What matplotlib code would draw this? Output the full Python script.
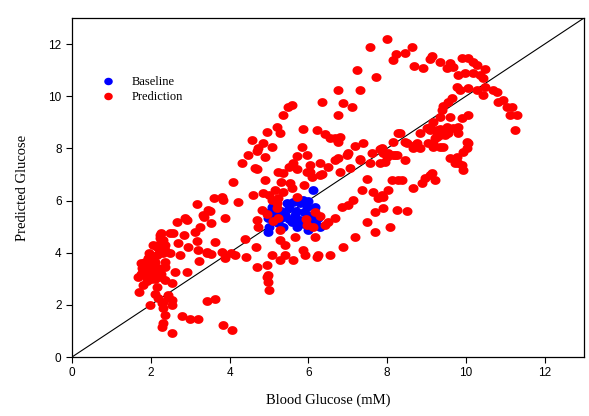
import numpy as np
import matplotlib
matplotlib.use("Agg")
import matplotlib.pyplot as plt
from matplotlib.path import Path

# baseline measurements (blue)
base_x = [5.08, 5.61, 5.86, 5.96, 6.17, 4.97, 5.41, 5.58, 5.79, 5.99, 6.24, 4.97,
          5.71, 5.99, 6.29, 5.36, 5.23, 6.12, 5.10, 5.15, 5.30, 5.50, 5.70, 5.80,
          6.00, 5.50, 5.65, 5.90, 6.05, 6.20, 5.45, 5.00, 5.05, 5.30, 6.15, 5.90]
base_y = [5.75, 5.94, 6.02, 5.75, 5.75, 5.33, 5.44, 5.17, 5.25, 5.44, 5.33, 4.79,
          4.98, 4.87, 4.98, 4.98, 5.13, 6.40, 5.20, 5.50, 5.60, 5.70, 5.60, 5.90,
          6.00, 5.30, 5.45, 5.10, 5.25, 5.10, 5.90, 5.00, 5.60, 5.35, 5.35, 5.55]

# model predictions (red)
pred_x = [
    # low range
    2.66, 2.92, 3.53, 2.23, 2.49, 2.56, 2.84, 3.12, 2.18, 2.36, 2.69, 2.94, 3.17,
    3.63, 2.16, 2.31, 2.49, 2.74, 3.20, 3.43, 3.53, 3.81, 4.04, 1.85, 2.11, 2.36,
    3.22, 3.88, 1.78, 1.98, 2.18, 2.36, 2.61, 2.92, 1.68, 1.90, 2.06, 2.36, 2.54,
    1.80, 2.16, 1.70, 2.44, 2.18, 2.54, 1.98, 2.28, 2.54, 2.31, 3.43, 3.63, 2.36,
    2.79, 2.99, 3.20, 2.31, 3.83, 4.06, 2.28, 2.54,
    1.85, 1.95, 2.00, 2.10, 1.75, 2.25, 2.20, 2.30, 1.90, 2.10, 2.30, 2.45, 1.92,
    2.23, 2.16, 1.75, 1.80, 2.00, 2.05, 2.15, 2.25, 1.95, 2.05, 2.25, 2.35,
    # lower middle
    4.47, 4.31, 4.64, 4.09, 4.90, 4.59, 4.21, 3.83, 3.60, 3.17, 3.50, 3.35, 3.88,
    2.87, 4.14, 4.42, 4.39, 4.67, 4.70, 4.95, 4.95, 4.97, 5.00, 4.90, 5.23, 3.81,
    3.45, 3.32, 3.25, 3.43, 4.97, 5.28, 5.61, 5.91, 6.22, 6.55, 6.88, 7.18, 7.69,
    8.07, 7.49, 7.69, 7.89, 8.25, 6.68, 6.85, 7.01, 7.13, 7.36, 7.64, 7.87, 8.02,
    8.12, 8.27, 7.31, 7.56, 7.82, 7.99, 8.15, 7.87, 6.98, 6.68, 6.50, 7.06, 6.80,
    6.29, 6.04,
    # upper band
    6.75, 7.31, 7.72, 6.35, 6.88, 7.11, 5.58, 5.48, 5.36, 6.75, 5.20, 5.86, 6.22,
    4.95, 5.28, 6.42, 6.68, 6.75, 4.57, 4.85, 5.08, 4.72, 7.18, 7.39, 8.15, 8.27,
    5.84,
    # central cluster
    4.70, 6.55, 5.71, 5.96, 5.61, 6.04, 6.29, 4.70, 5.36, 5.71, 5.96, 6.35, 5.53,
    4.85, 5.15, 5.36, 5.58, 5.08, 5.23, 5.71, 5.20, 5.23, 5.28, 5.28, 6.17, 5.96,
    6.12, 4.82, 4.70, 4.72, 6.17, 5.66, 6.42, 6.50, 5.41, 5.86, 5.08, 5.41, 6.24,
    5.00, 5.30, 5.50, 6.10, 5.90, 5.20, 4.95, 5.10, 6.30, 5.95,
    # middle right
    6.80, 7.82, 7.61, 8.32, 8.50, 8.71, 8.83, 9.09, 9.26, 9.16, 8.02, 8.25, 8.45,
    7.01, 6.75, 7.31, 7.49, 7.77, 8.65, 8.88, 9.09, 9.21, 8.50,
    # top
    7.99, 7.56, 8.63, 8.45, 8.22, 8.15, 9.14, 9.09, 9.34, 8.68, 8.91, 7.23,
    # upper right arc
    9.59, 9.67, 9.90, 10.05, 10.18, 10.28, 10.48, 9.80, 9.97, 10.18, 10.36, 10.43,
    9.52, 9.77, 9.85, 10.05, 10.28, 10.48, 10.69, 10.79, 10.43, 10.81, 10.94,
    11.04, 11.17, 11.12, 11.29, 11.24, 9.64, 9.54, 9.42, 9.39, 9.59, 9.90, 10.05,
    9.34, 9.16, 9.09, 9.26, 9.52, 9.67, 9.80, 8.83, 9.54, 9.21, 10.03,
    9.26, 9.34, 9.80, 9.16, 9.34, 10.05, 10.03, 9.92, 9.59, 9.77, 9.80, 9.92, 9.14,
    9.01, 9.34, 9.47, 8.45, 8.76, 8.65, 9.04, 9.42, 7.89, 8.20, 7.94, 9.72, 9.90,
    8.96, 8.38, 7.89,
]
pred_y = [
    # low range
    5.17, 5.25, 5.13, 4.67, 4.75, 4.75, 4.67, 4.79, 4.29, 4.29, 4.37, 4.21, 4.44,
    4.41, 3.91, 3.98, 3.98, 3.91, 4.10, 3.98, 3.95, 4.02, 3.98, 3.64, 3.64, 3.64,
    3.68, 3.79, 3.41, 3.33, 3.41, 3.45, 3.26, 3.26, 3.07, 3.03, 3.14, 2.95, 2.84,
    2.76, 2.68, 2.49, 2.38, 2.26, 2.18, 1.99, 2.07, 1.99, 1.88, 2.15, 2.22, 1.61,
    1.57, 1.46, 1.46, 1.30, 1.23, 1.03, 1.15, 0.92,
    3.50, 3.20, 3.50, 3.00, 3.20, 3.20, 4.00, 4.50, 2.90, 2.40, 2.10, 2.30, 3.79,
    4.56, 4.21, 3.60, 3.30, 3.00, 3.70, 3.35, 3.05, 4.00, 4.30, 4.75, 4.10,
    # lower middle
    7.74, 7.43, 7.24, 6.70, 6.78, 6.21, 5.94, 6.02, 6.09, 5.86, 5.59, 5.36, 5.33,
    5.33, 3.91, 3.83, 4.52, 4.21, 3.45, 3.52, 3.07, 2.87, 2.57, 7.66, 7.09, 6.13,
    5.63, 5.44, 4.98, 4.02, 3.14, 3.72, 3.72, 3.91, 3.83, 3.91, 4.21, 4.60, 4.79,
    4.98, 5.17, 5.56, 5.71, 5.63, 5.33, 5.75, 5.82, 6.02, 6.40, 6.32, 6.21, 6.40,
    6.78, 6.78, 7.55, 7.43, 7.43, 7.66, 7.74, 8.01, 7.74, 7.55, 7.28, 7.24, 7.09,
    6.97, 7.09,
    # upper band
    10.23, 10.23, 10.73, 9.77, 9.73, 9.58, 9.66, 9.58, 9.27, 9.27, 8.81, 8.74, 8.70,
    8.62, 8.58, 8.55, 8.39, 8.24, 8.31, 8.20, 8.05, 8.01, 8.08, 8.20, 8.24, 8.58,
    8.05,
    # central cluster
    7.89, 8.39, 7.70, 7.74, 7.43, 7.36, 7.43, 7.20, 7.05, 7.20, 7.09, 7.01, 6.67,
    6.28, 6.40, 6.32, 6.48, 6.02, 6.09, 6.13, 5.71, 5.33, 4.87, 4.48, 5.56, 5.06,
    4.98, 5.63, 5.25, 4.98, 4.60, 4.60, 5.06, 5.17, 4.29, 4.10, 3.91, 3.91, 3.91,
    6.20, 6.70, 7.30, 6.90, 6.60, 5.90, 5.50, 5.20, 5.40, 5.30,
    # middle right
    8.43, 7.97, 7.82, 8.58, 8.20, 8.12, 8.01, 8.70, 8.43, 8.05, 7.82, 7.74, 7.55,
    7.82, 7.62, 7.59, 6.82, 6.09, 6.48, 6.67, 6.97, 6.78, 5.59,
    # top
    12.18, 11.88, 11.88, 11.65, 11.61, 11.38, 11.53, 11.42, 11.30, 11.15, 11.07,
    11.00,
    # upper right arc
    11.26, 11.11, 11.46, 11.46, 11.30, 11.19, 11.03, 10.80, 10.88, 10.88, 10.80,
    10.69, 11.07, 10.34, 10.23, 10.31, 10.23, 10.34, 10.23, 10.15, 10.04, 9.77,
    9.85, 9.58, 9.58, 9.27, 9.27, 8.70, 9.92, 9.77, 9.62, 9.46, 9.20, 9.16, 9.27,
    9.20, 9.00, 8.81, 8.70, 8.81, 8.77, 8.81, 8.58, 8.58, 8.39, 8.24,
    8.58, 8.51, 8.58, 8.20, 8.05, 8.20, 8.01, 7.85, 7.62, 7.66, 7.43, 7.16, 7.05,
    8.77, 8.74, 8.51, 8.24, 8.20, 8.01, 8.20, 8.05, 7.82, 7.74, 7.47, 7.43, 7.36,
    6.86, 6.78, 6.13,
]

ticks = [0, 2, 4, 6, 8, 10, 12]
lim = 13

# slightly flattened dot
t = np.linspace(0, 2 * np.pi, 40)
dot = Path(np.column_stack([np.cos(t), 0.88 * np.sin(t)]))

fig = plt.figure(figsize=(5.89, 4.16), dpi=100)
ax = fig.add_axes([0.1222, 0.1418, 0.8693, 0.8149])

ax.plot([0, lim], [0, lim], color="black", lw=0.8, zorder=1)
ax.scatter(base_x, base_y, s=52, marker=dot, color="#0000ff", lw=0, zorder=2,
           label="Baseline")
ax.scatter(pred_x, pred_y, s=52, marker=dot, color="#ff0000", lw=0, zorder=3,
           label="Prediction")

ax.set_xlim(0, lim)
ax.set_ylim(0, lim)
ax.set_xticks(ticks)
ax.set_yticks(ticks)
ax.tick_params(direction="out", length=4, width=0.8, labelsize=8.5,
               top=False, right=False)
for lab in ax.get_xticklabels() + ax.get_yticklabels():
    lab.set_family("Liberation Sans")
for sp in ax.spines.values():
    sp.set_linewidth(0.9)

serif = "Liberation Serif"
ax.set_xlabel("Blood Glucose (mM)", family=serif, fontsize=10.5, labelpad=10)
ax.set_ylabel("Predicted Glucose", family=serif, fontsize=10.5, labelpad=14)

leg = ax.legend(loc="upper left", bbox_to_anchor=(0.045, 0.83), frameon=False,
                prop={"family": serif, "size": 9}, handletextpad=0.9,
                labelspacing=0.25, borderaxespad=0, borderpad=0,
                markerscale=0.85)

fig.savefig("out.png", dpi=100)
